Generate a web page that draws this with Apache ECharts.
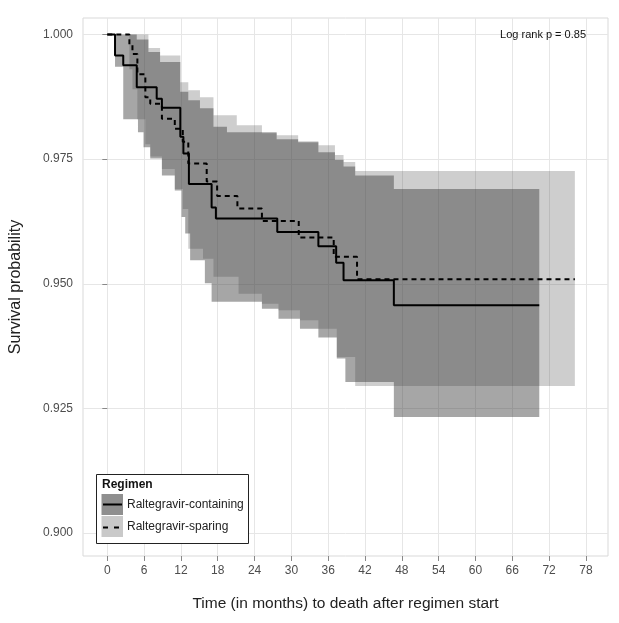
<!DOCTYPE html>
<html><head><meta charset="utf-8">
<script src="https://cdn.jsdelivr.net/npm/echarts@6/dist/echarts.min.js"></script>
<style>html,body{margin:0;padding:0;background:#fff}#c{width:619px;height:623px}</style>
</head><body><div id="c"></div>
<script>
// ---- tick labels ----
const xTicks = [0, 6, 12, 18, 24, 30, 36, 42, 48, 54, 60, 66, 72, 78];
const yTicks = [0.900, 0.925, 0.950, 0.975, 1.000];

// ---- Kaplan-Meier estimates ----
const containTime = [0, 1.26, 2.6, 4.8, 8.05, 8.9, 11.9, 12.4, 13.3, 17.0, 17.7, 27.7, 34.4, 37.3, 38.5, 46.7, 70.4];
const containSurv = [1, 0.9958, 0.9938, 0.9894, 0.9871, 0.9853, 0.9795, 0.9761, 0.9700, 0.9653, 0.9631, 0.9604, 0.9575, 0.9542, 0.9507, 0.9457, 0.9457];

const sparTime = [0, 3.6, 4.1, 4.9, 6.2, 7.0, 8.9, 11.0, 12.3, 13.2, 16.2, 17.9, 21.2, 25.2, 31.2, 36.9, 40.7, 76.2];
const sparSurv = [1, 0.9980, 0.9961, 0.9920, 0.9874, 0.9861, 0.9831, 0.9811, 0.9785, 0.9741, 0.9705, 0.9676, 0.9651, 0.9626, 0.9593, 0.9554, 0.9509, 0.9509];

// ---- confidence bands ----
const containUpTime = [0, 4.8, 6.7, 8.6, 11.9, 13.2, 15.1, 17.3, 19.5, 27.6, 31.1, 34.4, 37.1, 38.5, 40.4, 46.7];
const containUpVal  = [1, 0.9990, 0.9965, 0.9945, 0.9885, 0.9868, 0.9852, 0.9815, 0.9804, 0.9790, 0.9784, 0.9764, 0.9748, 0.9735, 0.9717, 0.9690];
const containLoTime = [0, 1.26, 2.6, 5.0, 5.9, 7.0, 8.9, 11.0, 12.1, 12.7, 13.5, 15.9, 17.0, 25.2, 27.9, 31.4, 34.4, 37.4, 38.8, 46.7];
const containLoVal  = [1, 0.9935, 0.9830, 0.9804, 0.9774, 0.9751, 0.9717, 0.9687, 0.9634, 0.9601, 0.9547, 0.9501, 0.9464, 0.9450, 0.9430, 0.9410, 0.9392, 0.9350, 0.9303, 0.9233];
const containEnd = 70.4;

const sparUpTime = [0, 6.7, 8.6, 11.9, 13.2, 15.1, 17.3, 21.1, 25.2, 27.6, 31.1, 34.4, 37.1, 38.5, 40.4];
const sparUpVal  = [1, 0.9973, 0.9958, 0.9904, 0.9888, 0.9874, 0.9838, 0.9818, 0.9802, 0.9798, 0.9786, 0.9778, 0.9758, 0.9744, 0.9726];
const sparLoTime = [0, 3.6, 4.1, 4.9, 6.2, 7.0, 8.9, 11.0, 12.3, 13.2, 15.6, 17.3, 21.4, 25.2, 27.9, 31.4, 34.4, 37.4, 40.4];
const sparLoVal  = [1, 0.9930, 0.9890, 0.9830, 0.9780, 0.9755, 0.9730, 0.9690, 0.9650, 0.9570, 0.9550, 0.9514, 0.9480, 0.9460, 0.9447, 0.9427, 0.9410, 0.9353, 0.9295];
const sparEnd = 76.2;

function stepEdge(times, vals, end) {
  const pts = [];
  for (let i = 0; i < times.length; i++) {
    const next = i + 1 < times.length ? times[i + 1] : end;
    pts.push([times[i], vals[i]]);
    pts.push([next, vals[i]]);
  }
  return pts;
}
function bandPoly(ut, uv, lt, lv, end) {
  return stepEdge(ut, uv, end).concat(stepEdge(lt, lv, end).reverse());
}
const containPoly = bandPoly(containUpTime, containUpVal, containLoTime, containLoVal, containEnd);
const sparPoly = bandPoly(sparUpTime, sparUpVal, sparLoTime, sparLoVal, sparEnd);

function bandSeries(poly, fill) {
  return {
    type: 'custom', coordinateSystem: 'cartesian2d', silent: true, z: 1,
    data: [[0, 1]],
    renderItem: function (params, api) {
      return { type: 'polygon', shape: { points: poly.map(p => api.coord(p)) }, style: { fill: fill } };
    }
  };
}

const FONT = 'Liberation Sans, Arial, sans-serif';
const chart = echarts.init(document.getElementById('c'));
chart.setOption({
  animation: false,
  backgroundColor: '#fff',
  grid: { left: 83, right: 11, top: 18, bottom: 67, show: true, borderColor: '#d9d9d9', borderWidth: 1 },
  xAxis: {
    type: 'value', min: -3.96, max: 81.6,
    name: 'Time (in months) to death after regimen start',
    nameLocation: 'middle', nameGap: 40,
    nameTextStyle: { fontFamily: FONT, fontSize: 15.5, color: '#222' },
    axisLine: { show: false },
    axisTick: { show: true, customValues: xTicks, length: 5, lineStyle: { color: '#888' } },
    axisLabel: { customValues: xTicks, margin: 9, fontFamily: FONT, fontSize: 12, color: '#4d4d4d' },
    splitLine: { show: true, lineStyle: { color: '#e6e6e6', width: 1 } }
  },
  yAxis: {
    type: 'value', min: 0.8954, max: 1.0033,
    name: 'Survival probability',
    nameLocation: 'middle', nameGap: 59, nameRotate: 90,
    nameTextStyle: { fontFamily: FONT, fontSize: 16, color: '#222' },
    axisLine: { show: false },
    axisTick: { show: true, customValues: yTicks, length: 5, lineStyle: { color: '#888' } },
    axisLabel: { customValues: yTicks, margin: 10, fontFamily: FONT, fontSize: 12, color: '#4d4d4d',
      formatter: v => v.toFixed(3) },
    splitLine: { show: true, lineStyle: { color: '#e6e6e6', width: 1 } }
  },
  series: [
    bandSeries(containPoly, 'rgba(61,61,61,0.46)'),
    bandSeries(sparPoly, 'rgba(61,61,61,0.25)'),
    {
      type: 'line', name: 'Raltegravir-containing', step: 'end', showSymbol: false, z: 3,
      data: containTime.map((t, i) => [t, containSurv[i]]),
      lineStyle: { color: '#000', width: 2 }
    },
    {
      type: 'line', name: 'Raltegravir-sparing', step: 'end', showSymbol: false, z: 3,
      data: sparTime.map((t, i) => [t, sparSurv[i]]),
      lineStyle: { color: '#000', width: 2, type: [5, 4] }
    }
  ],
  graphic: [
    { type: 'text', x: 586, y: 35, z: 20, style: { text: 'Log rank p = 0.85', font: '11px ' + FONT, fill: '#111', align: 'right', verticalAlign: 'middle' } },
    { type: 'rect', shape: { x: 96.5, y: 474.5, width: 152, height: 69 }, style: { fill: '#fff', stroke: '#222', lineWidth: 1 }, z: 10 },
    { type: 'text', x: 102, y: 485, style: { text: 'Regimen', font: 'bold 12px ' + FONT, fill: '#111', verticalAlign: 'middle' }, z: 11 },
    { type: 'rect', shape: { x: 101.5, y: 494, width: 21.5, height: 21 }, style: { fill: '#8f8f8f' }, z: 11 },
    { type: 'rect', shape: { x: 101.5, y: 516, width: 21.5, height: 21 }, style: { fill: '#c9c9c9' }, z: 11 },
    { type: 'line', shape: { x1: 103, y1: 504.5, x2: 122, y2: 504.5 }, style: { stroke: '#000', lineWidth: 2 }, z: 12 },
    { type: 'line', shape: { x1: 103, y1: 527.5, x2: 122, y2: 527.5 }, style: { stroke: '#000', lineWidth: 2, lineDash: [5, 6] }, z: 12 },
    { type: 'text', x: 127, y: 505, style: { text: 'Raltegravir-containing', font: '12px ' + FONT, fill: '#222', verticalAlign: 'middle' }, z: 12 },
    { type: 'text', x: 127, y: 527, style: { text: 'Raltegravir-sparing', font: '12px ' + FONT, fill: '#222', verticalAlign: 'middle' }, z: 12 }
  ]
});
</script>
</body></html>
